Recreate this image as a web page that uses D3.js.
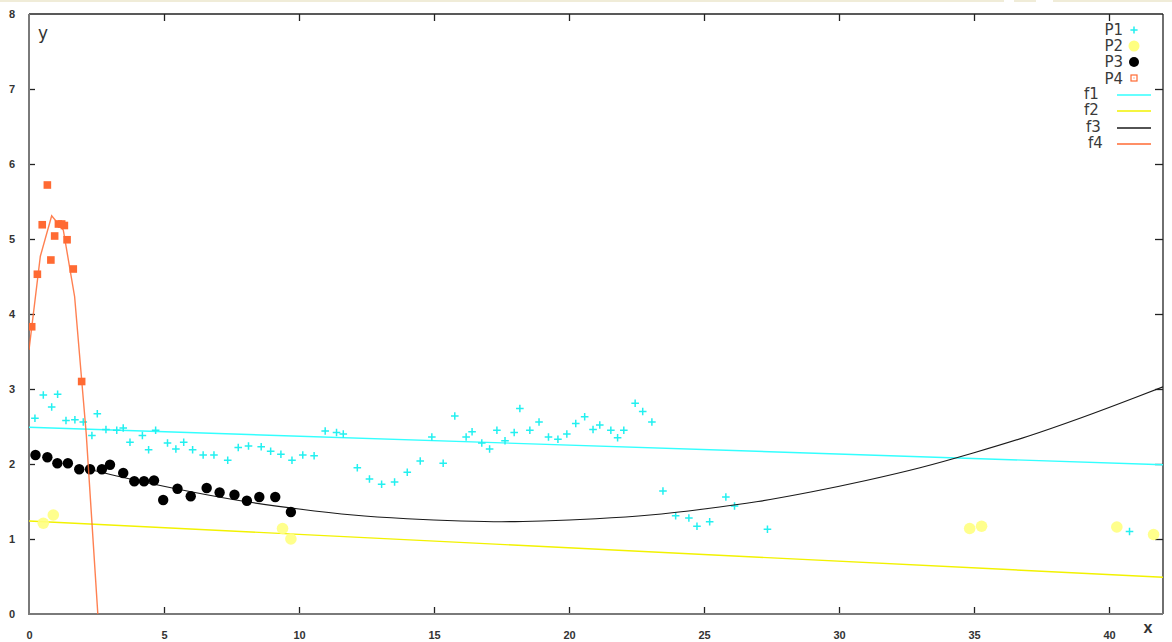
<!DOCTYPE html>
<html><head><meta charset="utf-8">
<script src="https://cdn.jsdelivr.net/npm/d3@7"></script>
<style>body{margin:0;background:#fff}svg{display:block}</style>
</head><body><svg id="c" width="1172" height="642"></svg>
<script>
// ---- data ----
const xTicks = [0,5,10,15,20,25,30,35,40];
const yTicks = [0,1,2,3,4,5,6,7,8];

const p1x = [0.22,0.53,0.84,1.06,1.37,1.70,2.01,2.33,2.53,2.85,3.25,3.49,3.74,4.20,4.43,4.69,5.13,5.44,5.73,6.06,6.45,6.85,7.36,7.75,8.13,8.60,8.95,9.33,9.74,10.14,10.56,10.97,11.39,11.64,12.16,12.61,13.06,13.54,14.01,14.49,14.92,15.34,15.77,16.19,16.41,16.77,17.06,17.33,17.63,17.97,18.18,18.55,18.89,19.24,19.59,19.92,20.25,20.58,20.89,21.14,21.55,21.80,22.03,22.45,22.73,23.07,23.48,23.95,24.44,24.74,25.21,25.81,26.13,27.35,40.76];
const p1y = [2.61,2.92,2.76,2.93,2.58,2.59,2.56,2.38,2.67,2.46,2.45,2.48,2.29,2.38,2.19,2.45,2.28,2.20,2.29,2.19,2.12,2.12,2.05,2.22,2.24,2.23,2.17,2.13,2.05,2.12,2.11,2.44,2.42,2.40,1.95,1.80,1.73,1.76,1.89,2.04,2.36,2.01,2.64,2.36,2.43,2.28,2.20,2.45,2.31,2.42,2.74,2.45,2.56,2.36,2.33,2.40,2.54,2.63,2.46,2.52,2.45,2.35,2.45,2.81,2.70,2.56,1.64,1.31,1.28,1.17,1.23,1.56,1.44,1.13,1.10];

const p2x = [0.53,0.90,9.39,9.70,34.84,35.28,40.29,41.65];
const p2y = [1.21,1.32,1.14,1.00,1.14,1.17,1.16,1.06];

const p3x = [0.24,0.68,1.05,1.44,1.86,2.26,2.70,3.00,3.49,3.90,4.26,4.63,4.97,5.50,5.99,6.58,7.06,7.61,8.07,8.53,9.12,9.70];
const p3y = [2.12,2.09,2.01,2.01,1.93,1.93,1.93,1.99,1.88,1.77,1.77,1.78,1.52,1.67,1.57,1.68,1.62,1.59,1.51,1.56,1.56,1.36];

const p4x = [0.10,0.31,0.49,0.68,0.81,0.95,1.09,1.21,1.31,1.41,1.64,1.95];
const p4y = [3.83,4.53,5.19,5.72,4.72,5.04,5.20,5.20,5.18,4.99,4.60,3.10];

const f1x = [0,42];
const f1y = [2.49,1.99];
const f2x = [0,42];
const f2y = [1.24,0.49];
const f3x = [2.2,4,6,8,10,12,14,16,17.5,19,21,23,25,27,29,31,33,35,37,39,41,42];
const f3y = [1.93,1.78,1.63,1.50,1.40,1.32,1.27,1.24,1.23,1.24,1.27,1.32,1.40,1.50,1.63,1.78,1.95,2.15,2.37,2.62,2.89,3.03];
const f4x = [0,0.42,0.84,1.27,1.69,2.12,2.54,2.97];
const f4y = [3.52,4.77,5.31,5.12,4.23,2.40,0.05,-2.6];

const legendP = ["P1","P2","P3","P4"];
const legendF = ["f1","f2","f3","f4"];

// ---- drawing ----
const svg = d3.select("#c");
const L=29,R=1163,T=14,B=614;
const x = d3.scaleLinear().domain([0,42]).range([L,R]);
const y = d3.scaleLinear().domain([0,8]).range([B,T]);

const C = {p1:"#22f0f0", p2:"#ffff80", p3:"#000000", p4:"#ff6a33",
           f1:"#33ffff", f2:"#f2f200", f3:"#1a1a1a", f4:"#ff6a33"};

// faint top band
[[0,1004],[1014,1036],[1053,1172]].forEach(s=>{
  svg.append("line").attr("x1",s[0]).attr("x2",s[1]).attr("y1",1).attr("y2",1)
    .attr("stroke","#f0ecd8").attr("stroke-width",2);
});

svg.append("defs").append("clipPath").attr("id","clip")
  .append("rect").attr("x",L).attr("y",T).attr("width",R-L).attr("height",B-T);

// frame: top/right black
svg.append("line").attr("x1",L).attr("x2",R).attr("y1",T).attr("y2",T).attr("stroke","#222").attr("stroke-width",1.3);
svg.append("line").attr("x1",R).attr("x2",R).attr("y1",T).attr("y2",B).attr("stroke","#222").attr("stroke-width",1.3);

const tickFont = "Liberation Sans, Arial, sans-serif";

// axes using d3 axes (inner ticks)
const xAxisB = d3.axisBottom(x).tickValues(xTicks).tickSize(-7).tickPadding(17).tickFormat(d3.format("d"));
const gxb = svg.append("g").attr("transform",`translate(0,${B})`).call(xAxisB);
gxb.select(".domain").remove();
gxb.selectAll(".tick line").attr("stroke","#222").attr("stroke-width",1.3).filter(d=>d===0).remove();
gxb.selectAll("text").attr("font-family",tickFont).attr("font-weight","bold").attr("font-size",11).attr("fill","#333");

const xAxisT = d3.axisTop(x).tickValues(xTicks.filter(d=>d>0)).tickSize(-7).tickFormat("");
const gxt = svg.append("g").attr("transform",`translate(0,${T})`).call(xAxisT);
gxt.select(".domain").remove();
gxt.selectAll(".tick line").attr("stroke","#222").attr("stroke-width",1.3);

const yAxisL = d3.axisLeft(y).tickValues(yTicks).tickSize(-6).tickPadding(14).tickFormat(d3.format("d"));
const gyl = svg.append("g").attr("transform",`translate(${L},0)`).call(yAxisL);
gyl.select(".domain").remove();
gyl.selectAll(".tick line").attr("stroke","#222").attr("stroke-width",1.3).filter(d=>d===0||d===8).remove();
gyl.selectAll("text").attr("font-family",tickFont).attr("font-weight","bold").attr("font-size",11).attr("fill","#333");

const yAxisR = d3.axisRight(y).tickValues(yTicks.filter(d=>d>0&&d<8)).tickSize(-8).tickFormat("");
const gyr = svg.append("g").attr("transform",`translate(${R},0)`).call(yAxisR);
gyr.select(".domain").remove();
gyr.selectAll(".tick line").attr("stroke","#222").attr("stroke-width",1.3);

// left & bottom gray axis lines
svg.append("line").attr("x1",L).attr("x2",L).attr("y1",T).attr("y2",B+1).attr("stroke","#7a7a7a").attr("stroke-width",2);
svg.append("line").attr("x1",L).attr("x2",R).attr("y1",B).attr("y2",B).attr("stroke","#7a7a7a").attr("stroke-width",2);

// axis labels
svg.append("text").attr("x",1148).attr("y",633).attr("text-anchor","middle")
  .attr("font-family",tickFont).attr("font-weight","bold").attr("font-size",16).attr("fill","#333").text("x");
svg.append("text").attr("x",43).attr("y",39).attr("text-anchor","middle")
  .attr("font-family","DejaVu Sans, sans-serif").attr("font-size",17).attr("fill","#333").text("y");

const plot = svg.append("g").attr("clip-path","url(#clip)");
const line = d3.line().x(d=>x(d[0])).y(d=>y(d[1]));
const lineSmooth = d3.line().x(d=>x(d[0])).y(d=>y(d[1])).curve(d3.curveMonotoneX);

plot.append("path").datum(d3.zip(f1x,f1y)).attr("d",line).attr("fill","none").attr("stroke",C.f1).attr("stroke-width",1.4);
plot.append("path").datum(d3.zip(f2x,f2y)).attr("d",line).attr("fill","none").attr("stroke",C.f2).attr("stroke-width",1.4);

// P2 circles
plot.selectAll(".p2").data(d3.zip(p2x,p2y)).join("circle")
  .attr("cx",d=>x(d[0])).attr("cy",d=>y(d[1])).attr("r",5.8).attr("fill",C.p2).attr("fill-opacity",0.9);

// P1 plus
const plus = (g,cx,cy,s,col)=>{
  g.append("path").attr("d",`M${cx-s},${cy}H${cx+s}M${cx},${cy-s}V${cy+s}`)
   .attr("stroke",col).attr("stroke-width",1.5).attr("fill","none");
};
const gp1 = plot.append("g");
d3.zip(p1x,p1y).forEach(d=>plus(gp1,x(d[0]),y(d[1]),3.8,C.p1));

// f3
plot.append("path").datum(d3.zip(f3x,f3y)).attr("d",lineSmooth).attr("fill","none").attr("stroke",C.f3).attr("stroke-width",1.2);

// P3 circles
plot.selectAll(".p3").data(d3.zip(p3x,p3y)).join("circle")
  .attr("cx",d=>x(d[0])).attr("cy",d=>y(d[1])).attr("r",5.2).attr("fill",C.p3);

// f4
plot.append("path").datum(d3.zip(f4x,f4y)).attr("d",line).attr("fill","none").attr("stroke",C.f4).attr("stroke-width",1.4).attr("stroke-opacity",0.85);

// P4 squares
plot.selectAll(".p4").data(d3.zip(p4x,p4y)).join("rect")
  .attr("x",d=>x(d[0])-3.8).attr("y",d=>y(d[1])-3.8).attr("width",7.6).attr("height",7.6).attr("fill",C.p4);

// legend
const lg = svg.append("g").attr("font-family","DejaVu Sans, sans-serif").attr("font-size",15).attr("fill","#3a3a3a");
const pY = [30,46,62,79];
legendP.forEach((t,i)=>{
  lg.append("text").attr("x",1123).attr("y",pY[i]+5).attr("text-anchor","end").text(t);
});
plus(lg,1134,pY[0],3.6,C.p1);
lg.append("circle").attr("cx",1134).attr("cy",pY[1]).attr("r",5.5).attr("fill",C.p2);
lg.append("circle").attr("cx",1134).attr("cy",pY[2]).attr("r",5).attr("fill",C.p3);
lg.append("rect").attr("x",1131).attr("y",pY[3]-4).attr("width",6).attr("height",6).attr("fill","none").attr("stroke",C.p4).attr("stroke-width",1.2);
lg.append("rect").attr("x",1133.5).attr("y",pY[3]-1.5).attr("width",1).attr("height",1).attr("fill",C.p4);

const fY = [95,111,128,144];
const fX = [1084,1084,1086,1088];
const fC = [C.f1,C.f2,C.f3,C.f4];
legendF.forEach((t,i)=>{
  lg.append("text").attr("x",fX[i]).attr("y",fY[i]+4).text(t);
  lg.append("line").attr("x1",1117).attr("x2",1151).attr("y1",fY[i]).attr("y2",fY[i]).attr("stroke",fC[i]).attr("stroke-width",1.4);
});
</script></body></html>
